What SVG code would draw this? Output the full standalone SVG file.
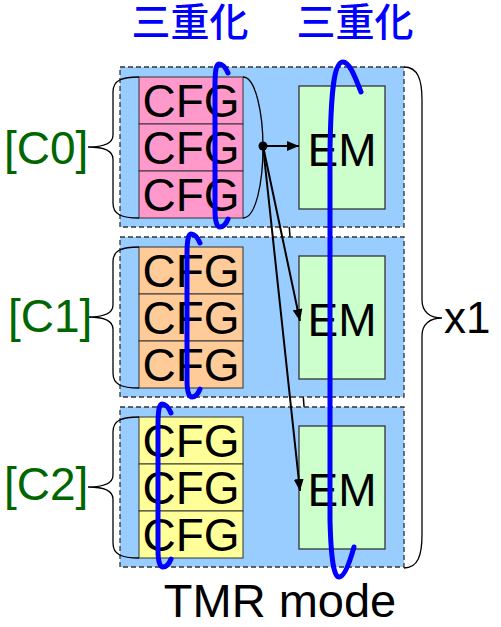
<svg xmlns="http://www.w3.org/2000/svg" width="501" height="627" viewBox="0 0 501 627">
<style>
.blk{fill:#99CCFF;stroke:#333;stroke-width:1.3;stroke-dasharray:5 3}
.cfg{stroke:#333;stroke-width:1}
.em{fill:#CCFFCC;stroke:#333;stroke-width:1.3}
.t{font-family:"Liberation Sans",Arial,sans-serif;fill:#000}
.big{font-size:46px}
.lbl{font-family:"Liberation Sans",Arial,sans-serif;font-size:46px;fill:#006600}
.hd{font-family:"Noto Sans CJK JP","Noto Sans CJK SC",sans-serif;font-size:39px;font-weight:500;fill:#0000FF;text-anchor:middle}
.br{fill:none;stroke:#000;stroke-width:1.3}
.mk{fill:none;stroke:#0000FF;stroke-width:5;stroke-linecap:round}
.cn{stroke:#000;stroke-width:2;fill:none}
</style>
<defs>
<marker id="ah" markerWidth="12" markerHeight="10" refX="12" refY="5" orient="auto" markerUnits="userSpaceOnUse">
<path d="M0,0 L12,5 L0,10 Z" fill="#000"/>
</marker>
<path id="mark" class="mk" d="M228,73 C225,66 222,64 219,64 C216,64 215,72 215,85 L215,210 C215,222 217,227 220,227 C223,227 226,224 228,219"/>
<path id="lbrace" class="br" d="M139,77 C122,77 113,80 113,92 L113,135 C113,143 104,147 88,147 C104,147 113,151 113,159 L113,203 C113,215 122,218 139,218"/>
</defs>
<line x1="287" y1="200" x2="306" y2="430" stroke="#000" stroke-width="1.5"/>
<g id="header">
<text class="hd" x="190" y="36">三重化</text>
<text class="hd" x="355" y="36">三重化</text>
</g>
<g id="block0">
<rect class="blk" x="120" y="67" width="284" height="160"/>
<rect class="cfg" x="139" y="77" width="104" height="47" fill="#FF99CC"/>
<rect class="cfg" x="139" y="124" width="104" height="47" fill="#FF99CC"/>
<rect class="cfg" x="139" y="171" width="104" height="47" fill="#FF99CC"/>
<text class="t big" x="191" y="117" text-anchor="middle">CFG</text>
<text class="t big" x="191" y="164" text-anchor="middle">CFG</text>
<text class="t big" x="191" y="211" text-anchor="middle">CFG</text>
<rect class="em" x="299" y="86" width="86" height="123"/>
<text class="t big" x="342" y="166" text-anchor="middle">EM</text>
<use href="#lbrace"/>
<path class="br" d="M243,77 C256,77 263,115 263,147 C263,182 256,218 243,218"/>
<text class="lbl" x="4" y="164">[C0]</text>
</g>
<g id="block1">
<rect class="blk" x="120" y="237" width="284" height="160"/>
<rect class="cfg" x="139" y="247" width="104" height="47" fill="#FFCC99"/>
<rect class="cfg" x="139" y="294" width="104" height="47" fill="#FFCC99"/>
<rect class="cfg" x="139" y="341" width="104" height="47" fill="#FFCC99"/>
<text class="t big" x="191" y="287" text-anchor="middle">CFG</text>
<text class="t big" x="191" y="334" text-anchor="middle">CFG</text>
<text class="t big" x="191" y="381" text-anchor="middle">CFG</text>
<rect class="em" x="299" y="256" width="86" height="123"/>
<text class="t big" x="342" y="336" text-anchor="middle">EM</text>
<use href="#lbrace" transform="translate(0,170)"/>
<text class="lbl" x="8" y="332">[C1]</text>
</g>
<g id="block2">
<rect class="blk" x="120" y="407" width="284" height="160"/>
<rect class="cfg" x="139" y="417" width="104" height="47" fill="#FFFF99"/>
<rect class="cfg" x="139" y="464" width="104" height="47" fill="#FFFF99"/>
<rect class="cfg" x="139" y="511" width="104" height="47" fill="#FFFF99"/>
<text class="t big" x="191" y="457" text-anchor="middle">CFG</text>
<text class="t big" x="191" y="504" text-anchor="middle">CFG</text>
<text class="t big" x="191" y="551" text-anchor="middle">CFG</text>
<rect class="em" x="299" y="426" width="86" height="123"/>
<text class="t big" x="342" y="506" text-anchor="middle">EM</text>
<use href="#lbrace" transform="translate(0,340)"/>
<text class="lbl" x="4" y="500">[C2]</text>
</g>
<g id="connectors">
<circle cx="263" cy="146" r="4.5" fill="#000"/>
<line class="cn" x1="263" y1="146" x2="299" y2="146" marker-end="url(#ah)"/>
<line class="cn" x1="263" y1="146" x2="300" y2="321" marker-end="url(#ah)"/>
<line class="cn" x1="263" y1="146" x2="300" y2="491" marker-end="url(#ah)"/>
</g>
<g id="marks">
<use href="#mark"/>
<use href="#mark" transform="translate(-28,170)"/>
<use href="#mark" transform="translate(-57,340)"/>
<path class="mk" d="M361,92 C354,74 349,62 343,62 C334,62 331,90 330,150 L330,520 C331,560 334,577 339,577 C344,577 349,565 354,547"/>
</g>
<g id="group-x1">
<path class="br" d="M404,67 C418,67 422,80 422,100 L422,300 C422,312 430,318 442,318 C430,318 422,324 422,336 L422,535 C422,555 418,568 404,568"/>
<text class="t" x="444" y="333" font-size="44">x1</text>
</g>
<text class="t" x="280" y="617" font-size="47" text-anchor="middle">TMR mode</text>
</svg>
